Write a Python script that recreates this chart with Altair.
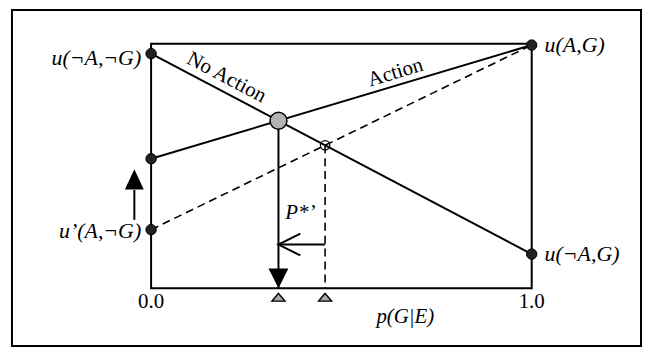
import altair as alt
import pandas as pd

# ---- values (data units: x = p(G|E) in [0,1], y = utility in [0,1]) ----
x_ends = [0.0, 1.0]
u_no_action = [0.96, 0.14]      # u(¬A,¬G) at x=0, u(¬A,G) at x=1
u_action = [0.53, 0.995]        # u(A,¬G) at x=0, u(A,G) at x=1
u_action_new = [0.24, 0.995]    # u'(A,¬G) at x=0, u(A,G) at x=1
x_tick_labels = ["0.0", "1.0"]
x_title = "p(G|E)"
left_labels = ["u(¬A,¬G)", "u’(A,¬G)"]
right_labels = ["u(A,G)", "u(¬A,G)"]
line_labels = ["No Action", "Action"]
shift_label = "P*’"
shift_level = [0.179]            # height of the P*' shift arrow
raise_arrow_x = [-0.044]         # the upward arrow on the left
raise_arrow_y = [0.28, 0.402]


def crossing(a, b):
    x = (a[0] - b[0]) / ((b[1] - b[0]) - (a[1] - a[0]))
    return x, a[0] + (a[1] - a[0]) * x


p_star, y_star = crossing(u_no_action, u_action)
p_star2, y_star2 = crossing(u_no_action, u_action_new)

# ---- layout (pixels) ----
W, H = 633, 338
px0, px1 = 140, 523   # view x of data 0 and 1
py0, py1 = 280, 34    # view y of data 0 and 1
sx = (px1 - px0)
sy = (py0 - py1)
xs = alt.Scale(domain=[-px0 / sx, (W - px0) / sx], nice=False, zero=False)
ys = alt.Scale(domain=[(py0 - H) / sy, py0 / sy], nice=False, zero=False)


def X(field="x"):
    return alt.X(field, type="quantitative", scale=xs, axis=None)


def Y(field="y"):
    return alt.Y(field, type="quantitative", scale=ys, axis=None)


SERIF = "Liberation Serif"
FS = 21

box = pd.DataFrame({"x": [x_ends[0]], "x2": [x_ends[1]], "y": [0.0], "y2": [1.0]})
frame = alt.Chart(box).mark_rect(fillOpacity=0, stroke="black", strokeWidth=2).encode(
    x=X(), x2="x2", y=Y(), y2="y2")

lines_df = pd.DataFrame({
    "x": x_ends + x_ends,
    "y": u_no_action + u_action,
    "s": ["No Action"] * 2 + ["Action"] * 2,
})
solid_lines = alt.Chart(lines_df).mark_line(color="black", strokeWidth=2).encode(
    x=X(), y=Y(), detail="s:N")

dash_df = pd.DataFrame({"x": x_ends, "y": u_action_new})
dashed_line = alt.Chart(dash_df).mark_line(color="black", strokeWidth=1.6, strokeDash=[8, 5]).encode(
    x=X(), y=Y())

vdf = pd.DataFrame({"x": [p_star], "y": [y_star], "y2": [0.0]})
v_solid = alt.Chart(vdf).mark_rule(color="black", strokeWidth=2).encode(x=X(), y=Y(), y2="y2")

vdf2 = pd.DataFrame({"x": [p_star2], "y": [y_star2], "y2": [0.0]})
v_dashed = alt.Chart(vdf2).mark_rule(color="black", strokeWidth=1.6, strokeDash=[8, 5]).encode(
    x=X(), y=Y(), y2="y2")

hdf = pd.DataFrame({"x": [p_star2], "x2": [p_star], "y": shift_level})
h_arrow = alt.Chart(hdf).mark_rule(color="black", strokeWidth=2).encode(x=X(), x2="x2", y=Y())

head_df = pd.DataFrame({"x": [p_star], "y": shift_level})
h_head = alt.Chart(head_df).mark_point(
    shape="M1,-1L-1,0L1,1", filled=False, stroke="black", strokeWidth=2, size=484,
    opacity=1, xOffset=11).encode(x=X(), y=Y())

down_df = pd.DataFrame({"x": [p_star], "y": [0.0]})
down_head = alt.Chart(down_df).mark_point(
    shape="M-1,-1L1,-1L0,1Z", filled=True, color="black", size=400, opacity=1,
    yOffset=-10).encode(x=X(), y=Y())

tri_df = pd.DataFrame({"x": [p_star, p_star2], "y": [0.0, 0.0]})
gray_tris = alt.Chart(tri_df).mark_point(
    shape="M0,-0.6L1,0.6L-1,0.6Z", filled=True, fill="#a9a9a9", stroke="black",
    strokeWidth=1.5, size=169, opacity=1, yOffset=9).encode(x=X(), y=Y())

big_df = pd.DataFrame({"x": [p_star], "y": [y_star]})
big_circle = alt.Chart(big_df).mark_point(
    shape="circle", filled=True, fill="#b3b3b3", stroke="black", strokeWidth=1.5,
    size=290, opacity=1).encode(x=X(), y=Y())

small_df = pd.DataFrame({"x": [p_star2], "y": [y_star2]})
small_circle = alt.Chart(small_df).mark_point(
    shape="circle", filled=False, stroke="black", strokeWidth=1.3, size=90,
    opacity=1).encode(x=X(), y=Y())

dots_df = pd.DataFrame({
    "x": [x_ends[0], x_ends[1], x_ends[0], x_ends[1], x_ends[0]],
    "y": [u_no_action[0], u_no_action[1], u_action[0], u_action[1], u_action_new[0]],
})
dots = alt.Chart(dots_df).mark_point(
    shape="circle", filled=True, fill="#222222", stroke="black", strokeWidth=1,
    size=110, opacity=1).encode(x=X(), y=Y())

up_df = pd.DataFrame({"x": raise_arrow_x, "y": [raise_arrow_y[0]], "y2": [raise_arrow_y[1]]})
up_shaft = alt.Chart(up_df).mark_rule(color="black", strokeWidth=2).encode(x=X(), y=Y(), y2="y2")
up_head_df = pd.DataFrame({"x": raise_arrow_x, "y": [raise_arrow_y[1]]})
up_head = alt.Chart(up_head_df).mark_point(
    shape="M0,-1.15L1,1L-1,1Z", filled=True, color="black", size=361, opacity=1,
    yOffset=-10).encode(x=X(), y=Y())


def text_layer(df, **kw):
    base = dict(font=SERIF, fontSize=FS, color="black", baseline="middle")
    base.update(kw)
    return alt.Chart(df).mark_text(**base).encode(x=X(), y=Y(), text="t:N")


lab1 = text_layer(pd.DataFrame({"x": [x_ends[0]], "y": [u_no_action[0]], "t": [left_labels[0]]}),
                  fontStyle="italic", fontSize=22, align="right", dx=-10, dy=4)
lab2 = text_layer(pd.DataFrame({"x": [x_ends[0]], "y": [u_action_new[0]], "t": [left_labels[1]]}),
                  fontStyle="italic", fontSize=22, align="right", dx=-10, dy=1)
lab3 = text_layer(pd.DataFrame({"x": [x_ends[1]], "y": [u_action[1]], "t": [right_labels[0]]}),
                  fontStyle="italic", fontSize=22, align="left", dx=13, dy=0)
lab4 = text_layer(pd.DataFrame({"x": [x_ends[1]], "y": [u_no_action[1]], "t": [right_labels[1]]}),
                  fontStyle="italic", fontSize=22, align="left", dx=13, dy=0)
ticks = text_layer(pd.DataFrame({"x": x_ends, "y": [0.0, 0.0], "t": x_tick_labels}),
                   align="center", dy=14)
xtitle = text_layer(pd.DataFrame({"x": [0.668], "y": [0.0], "t": [x_title]}),
                    fontStyle="italic", align="center", dy=29)
no_action_lab = text_layer(pd.DataFrame({"x": [0.198], "y": [0.862], "t": [line_labels[0]]}),
                           align="center", angle=27.7)
action_lab = text_layer(pd.DataFrame({"x": [0.642], "y": [0.882], "t": [line_labels[1]]}),
                        align="center", angle=343.3)
pstar_lab = text_layer(pd.DataFrame({"x": [0.392], "y": [0.309], "t": [shift_label]}),
                       fontStyle="italic", align="center")

chart = alt.layer(
    frame, solid_lines, dashed_line, v_solid, v_dashed, h_arrow, h_head, down_head,
    gray_tris, big_circle, small_circle, dots, up_shaft, up_head,
    lab1, lab2, lab3, lab4, ticks, xtitle, no_action_lab, action_lab, pstar_lab,
).properties(
    width=W, height=H,
    padding={"left": 4, "top": 1, "right": 2, "bottom": 2},
    autosize=alt.AutoSizeParams(type="none"),
    background="white",
).configure_view(stroke="black", strokeWidth=2)

chart.save("out.html", embed_options={"renderer": "svg", "actions": False})
